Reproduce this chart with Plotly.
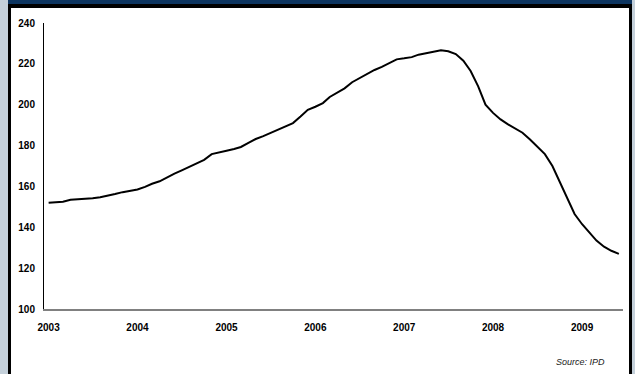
import plotly.graph_objects as go
import pandas as pd

# Monthly capital value index, Jan 2003 - Jun 2009
months = pd.date_range("2003-01-01", "2009-06-01", freq="MS")
index_values = [
    152.0, 152.1, 152.5, 153.5, 153.7, 153.9, 154.2, 154.7, 155.4, 156.3, 157.2, 157.9,
    158.5, 159.8, 161.3, 162.5, 164.5, 166.3, 167.9, 169.5, 171.2, 173.0, 175.8, 176.8,
    177.5, 178.3, 179.3, 181.3, 183.2, 184.6, 186.2, 187.8, 189.3, 191.0, 194.2, 197.5,
    199.0, 200.8, 203.8, 206.0, 208.0, 211.0, 213.0, 215.3, 217.0, 218.5, 220.3, 222.2,
    222.7, 223.3, 224.5, 225.2, 226.0, 226.6, 226.2, 224.8, 221.5, 216.5, 209.0, 200.0,
    196.0, 192.8, 190.5, 188.5, 186.3, 183.0, 179.5, 175.8, 170.0, 162.0, 154.0, 146.5,
    141.5, 137.5, 133.5, 130.5, 128.5, 127.0,
]
year_ticks = ["2003-01-01", "2004-01-01", "2005-01-01", "2006-01-01",
              "2007-01-01", "2008-01-01", "2009-01-01"]
year_labels = ["2003", "2004", "2005", "2006", "2007", "2008", "2009"]
y_ticks = [100, 120, 140, 160, 180, 200, 220, 240]

W, H = 635, 374
L, R, T, B = 44, 12, 23, 65
PW, PH = W - L - R, H - T - B


def px(x):
    return (x - L) / PW


def py(y):
    return (H - B - y) / PH


fig = go.Figure()
fig.add_trace(go.Scatter(
    x=months, y=index_values, mode="lines",
    line=dict(color="#000000", width=2),
    hoverinfo="skip", showlegend=False,
))

frame_color = "#c4d0da"
shapes = [
    # side strips
    dict(type="rect", x0=px(0), x1=px(8), y0=py(0), y1=py(H), fillcolor=frame_color, line_width=0),
    dict(type="rect", x0=px(632), x1=px(W), y0=py(0), y1=py(H), fillcolor=frame_color, line_width=0),
    # black frame lines
    dict(type="rect", x0=px(8), x1=px(11), y0=py(0), y1=py(H), fillcolor="#000000", line_width=0),
    dict(type="rect", x0=px(629), x1=px(632), y0=py(0), y1=py(H), fillcolor="#000000", line_width=0),
    dict(type="rect", x0=px(8), x1=px(632), y0=py(0), y1=py(8), fillcolor="#000000", line_width=0),
    # navy header band
    dict(type="rect", x0=px(8), x1=px(632), y0=py(0), y1=py(4), fillcolor="#0d3560", line_width=0),
]
for s in shapes:
    s.update(xref="paper", yref="paper", layer="above")

tick_font = dict(size=10, family="Liberation Sans, Arial, sans-serif", weight="bold", color="#000000")

fig.update_layout(
    width=W, height=H,
    margin=dict(l=L, r=R, t=T, b=B),
    paper_bgcolor="#ffffff", plot_bgcolor="#ffffff",
    shapes=shapes,
    font=dict(family="Liberation Sans, Arial, sans-serif", color="#000000"),
    xaxis=dict(
        type="date",
        range=["2002-12-13", "2009-06-18"],
        tickvals=year_ticks, ticktext=year_labels,
        tickfont=tick_font,
        showgrid=False, zeroline=False,
        showline=True, linecolor="#808080", linewidth=2,
        ticks="", ticklabelstandoff=8,
    ),
    yaxis=dict(
        range=[100, 240],
        tickvals=y_ticks,
        tickfont=tick_font,
        showgrid=False, zeroline=False,
        showline=True, linecolor="#000000", linewidth=1,
        ticks="", ticklabelstandoff=6,
    ),
    annotations=[dict(
        text="<i>Source: IPD</i>", xref="paper", yref="paper",
        x=px(607), y=py(362), xanchor="right", yanchor="middle",
        showarrow=False, font=dict(size=9, color="#222222"),
    )],
)

fig.write_html("out.html")
